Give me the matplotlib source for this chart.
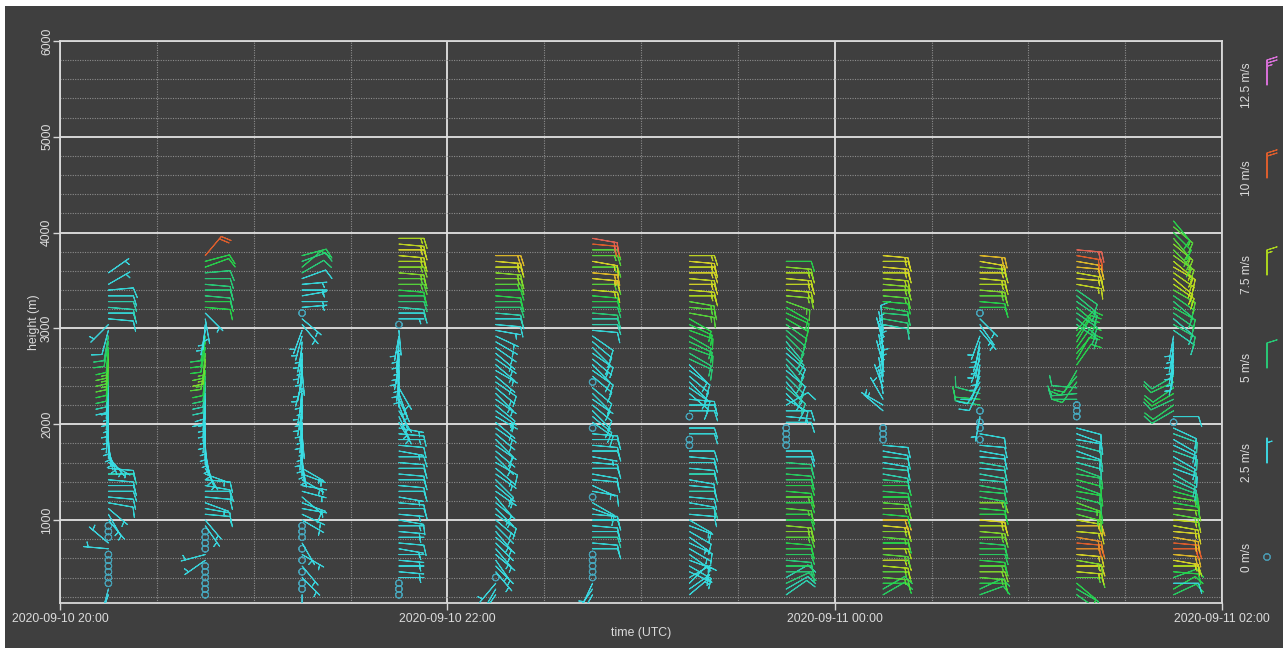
import numpy as np
import matplotlib
matplotlib.use('Agg')
import matplotlib.pyplot as plt
import matplotlib.dates as mdates
from matplotlib.colors import LinearSegmentedColormap, Normalize
from matplotlib.patches import Rectangle
from datetime import datetime, timedelta

plt.rcParams['font.family'] = ['Liberation Sans', 'DejaVu Sans']

nan = np.nan

# range gates (m) and profile times (UTC)
heights = np.arange(220, 4121, 60)
times = [datetime(2020, 9, 10, 20, 15) + timedelta(minutes=30 * k) for k in range(12)]

# wind speed (m/s) and direction (deg, from) per profile, one value per gate
spd_2015 = [2.5, 2, 0.5, 0.5, 0.5, 0.5, 0.5, 0.5, 3, 2.5, 0.5,
            0.5, 0.5, 3, 3, 3.5, 4, 4, 4, 4, 4, 4.5,
            4, 3.5, 3, 3, 3, 3, 3, 3, 3, 3.5, 3.5,
            3.5, 3.5, 3.5, 4, 4.5, 5.5, 6, 6.5, 6.5, 6.5, 6,
            5.5, 5, 4, 3, 4, 4, 4.5, 4.5, 4, 4, 3.5,
            nan, 3, nan, nan, nan, nan, nan, nan, nan, nan, nan]
dir_2015 = [200, 195, 0, 0, 0, 0, 0, 0, 275, 310, 0,
            0, 0, 140, 150, 130, 100, 95, 90, 90, 95, 90,
            95, 120, 140, 160, 170, 175, 180, 185, 180, 185, 180,
            185, 180, 185, 185, 185, 185, 185, 185, 185, 185, 185,
            190, 190, 195, 225, 95, 90, 95, 90, 90, 85, 60,
            0, 55, 0, 0, 0, 0, 0, 0, 0, 0, 0]

spd_2045 = [0.5, 0.5, 0.5, 0.5, 0.5, 0.5, 3, 3.5, 0.5, 0.5, 0.5,
            0.5, 3, 3, 4, 4, 3.5, 4, 4, 4, 4, 3.5,
            3.5, 3.5, 3.5, 3, 3, 3, 3, 3.5, 3, 3.5, 3.5,
            3.5, 4, 4, 4.5, 4.5, 5, 6, 6.5, 7, 6.5, 6,
            6, 5.5, 3.5, 3, 3, 3, 6, 6, 5, 5, 5,
            5, 5, 6, 6, 10, nan, nan, nan, nan, nan, nan]
dir_2045 = [0, 0, 0, 0, 0, 0, 235, 255, 0, 0, 0,
            0, 145, 140, 95, 100, 110, 95, 90, 100, 95, 110,
            150, 160, 165, 170, 175, 180, 180, 185, 180, 185, 185,
            185, 185, 180, 185, 185, 185, 185, 190, 185, 185, 190,
            190, 190, 190, 185, 170, 135, 95, 90, 95, 90, 95,
            90, 85, 70, 75, 40, 0, 0, 0, 0, 0, 0]

spd_2115 = [2, 0.5, 0.5, 3, 0.5, 3, 0.5, 3, 0.5, 3, 0.5,
            0.5, 0.5, 3, 3.5, 3.5, 3.5, 4, 3.5, 3.5, 3.5, 3.5,
            3.5, 3, 3, 3, 3, 3, 3, 3, 3, 3.5, 3.5,
            3.5, 3.5, 3.5, 3, 3.5, 3.5, 3.5, 3.5, 3, 3.5, 3.5,
            3, 3, 2.5, 3, 3, 0.5, 3.5, 3.5, 3.5, 3.5, 3.5,
            4, 5, 5.5, 5, 5.5, nan, nan, nan, nan, nan, nan]
dir_2115 = [180, 0, 0, 135, 0, 140, 0, 120, 0, 150, 0,
            0, 0, 120, 115, 100, 110, 130, 105, 100, 120, 110,
            120, 170, 175, 180, 185, 180, 175, 185, 180, 185, 190,
            185, 190, 180, 185, 195, 190, 175, 185, 190, 180, 190,
            185, 195, 200, 140, 130, 0, 85, 90, 80, 90, 85,
            70, 60, 50, 70, 75, 0, 0, 0, 0, 0, 0]

spd_2145 = [0.5, 0.5, 0.5, 3, 3.5, 3.5, 3.5, 3.5, 3.5, 4, 3.5,
            3.5, 3.5, 4, 3.5, 4, 4, 3.5, 4, 4, 4, 4,
            4, 4, 4, 3.5, 4, 3.5, 4, 3.5, 3.5, 3.5, 3.5,
            3.5, 3.5, 3.5, 3.5, 3, 3, 3, 3, 3, 3, 3,
            3, 3, 3, 0.5, 3.5, 4, 4.5, 5, 5.5, 6, 6.5,
            6.5, 7, 7, 7.5, 8, 8.5, 8, 7.5, nan, nan, nan]
dir_2145 = [0, 0, 0, 90, 95, 90, 95, 90, 100, 95, 90,
            95, 90, 100, 95, 90, 95, 100, 90, 95, 90, 95,
            90, 95, 90, 100, 95, 90, 95, 100, 150, 155, 150,
            160, 155, 160, 150, 180, 185, 180, 190, 185, 180, 185,
            185, 190, 175, 0, 90, 90, 95, 90, 90, 95, 90,
            90, 95, 90, 90, 95, 90, 95, 90, 0, 0, 0]

spd_2215 = [3.5, 3.5, 3, 0.5, 3, 3.5, 3.5, 3, 3.5, 3.5, 3.5,
            3.5, 3.5, 3.5, 4, 3.5, 3.5, 4, 3.5, 3.5, 4, 3.5,
            3.5, 4, 3.5, 3.5, 3.5, 4, 3.5, 3.5, 3.5, 3.5, 3.5,
            4, 3.5, 3.5, 3.5, 4, 3.5, 3.5, 3.5, 3.5, 3.5, 3.5,
            3.5, 3.5, 3, 4, 4, 4.5, 5, 5.5, 6, 6, 6.5,
            7, 7, 8, 8.5, 9, nan, nan, nan, nan, nan, nan]
dir_2215 = [215, 210, 220, 0, 140, 135, 145, 130, 140, 135, 130,
            140, 135, 130, 125, 135, 130, 140, 125, 130, 135, 125,
            130, 120, 135, 130, 125, 135, 130, 125, 130, 120, 125,
            130, 125, 135, 130, 125, 130, 120, 130, 125, 130, 125,
            120, 115, 100, 95, 90, 95, 90, 90, 95, 90, 90,
            90, 95, 90, 95, 90, 0, 0, 0, 0, 0, 0]

spd_2245 = [3, 3, 2.5, 0.5, 0.5, 0.5, 0.5, 0.5, 4, 4, 4.5,
            4, 4, 4, 4, 3.5, 4, 0.5, 4, 3.5, 4, 4,
            4, 4, 3.5, 4, 4, 4, 4, 0.5, 4, 4, 4,
            4, 3.5, 4, 4, 0.5, 4, 4, 4, 3.5, 4, 4,
            4, 4, 4, 4.5, 4.5, 5, 5, 6, 6, 8, 6.5,
            8.5, 9, 6.5, 8.5, 6.5, 6.5, 10, 10.5, nan, nan, nan]
dir_2245 = [210, 215, 205, 0, 0, 0, 0, 0, 90, 95, 90,
            90, 95, 90, 95, 110, 120, 0, 100, 115, 95, 100,
            90, 95, 100, 90, 95, 90, 95, 0, 125, 130, 135,
            130, 125, 135, 130, 0, 130, 125, 135, 130, 125, 135,
            130, 125, 95, 90, 90, 95, 90, 90, 95, 95, 90,
            95, 95, 90, 100, 90, 90, 95, 100, 0, 0, 0]

spd_2315 = [3.5, 3.5, 4, 3.5, 3.5, 4, 3.5, 4, 3.5, 4, 3.5,
            4, 3.5, 4, 4, 4.5, 4, 4, 4.5, 4, 4, 4.5,
            4, 4, 4, 4, 0.5, 0.5, 4, 4, nan, 0.5, 4,
            4, 4, 4, 4, 4, 4, 4, 4, 5, 5, 5.5,
            5.5, 5.5, 6, 6, 6, 6.5, 6.5, 6.5, 7.5, 8, 8.5,
            8, 8.5, 8, 8.5, 8, nan, nan, nan, nan, nan, nan]
dir_2315 = [50, 55, 45, 60, 115, 120, 110, 125, 120, 115, 125,
            120, 110, 120, 95, 90, 100, 95, 90, 95, 100, 90,
            95, 90, 95, 90, 0, 0, 90, 90, 0, 0, 90,
            90, 95, 130, 125, 135, 130, 125, 135, 115, 120, 110,
            115, 120, 110, 115, 120, 100, 95, 100, 90, 95, 90,
            95, 90, 90, 95, 90, 0, 0, 0, 0, 0, 0]

spd_2345 = [4.5, 4.5, 5, 4.5, 5, 5.5, 5, 5.5, 6, 6, 6.5,
            7, 7, 6, 6, 6.5, 6, 6.5, 6, 6, 5.5, 5.5,
            5, 5, 4, 4, 0.5, 0.5, 0.5, 0.5, 4, 3.5, 4,
            4, 4, 4, 4.5, 4, 4.5, 4, 4.5, 4.5, 4, 4.5,
            4.5, 5, 5, 5.5, 6, 6, 6, 6.5, 7, 7.5, 8,
            8, 7.5, 7, 6, nan, nan, nan, nan, nan, nan, nan]
dir_2345 = [55, 60, 65, 60, 90, 90, 95, 90, 90, 95, 90,
            90, 95, 90, 90, 95, 90, 90, 95, 90, 90, 95,
            90, 95, 90, 90, 0, 0, 0, 0, 90, 95, 90,
            60, 120, 135, 130, 140, 135, 130, 140, 135, 130, 135,
            140, 135, 130, 125, 120, 115, 120, 110, 95, 95, 90,
            95, 90, 95, 90, 0, 0, 0, 0, 0, 0, 0]

spd_0015 = [5.5, 5.5, 6, 6.5, 6.5, 7.5, 8, 6.5, 7.5, 6, 6.5,
            7, 8.5, 9, 6, 7, 6.5, 6, 5.5, 6, 5, 4.5,
            4.5, 4, 4.5, 4, 4, 0.5, 0.5, 0.5, nan, nan, 3,
            3, 3, 2.5, 3, 3, 3.5, 3.5, 3, 3.5, 3.5, 3,
            3.5, 3, 4, 4.5, 5, 5, 5.5, 6, 6.5, 7, 7,
            7.5, 8, 8.5, 8, 8.5, nan, nan, nan, nan, nan, nan]
dir_0015 = [60, 60, 90, 95, 90, 95, 90, 95, 90, 90, 95,
            90, 95, 90, 95, 90, 95, 90, 95, 90, 95, 100,
            95, 100, 95, 100, 95, 0, 0, 0, 0, 0, 310,
            300, 330, 350, 340, 350, 355, 0, 345, 350, 355, 350,
            345, 350, 355, 100, 100, 95, 100, 95, 95, 90, 95,
            95, 90, 95, 90, 95, 0, 0, 0, 0, 0, 0]

spd_0045 = [5.5, 5.5, 6, 6.5, 7, 6.5, 6, 5.5, 6, 5.5, 6.5,
            7, 7.5, 8.5, 6, 6, 7, 5.5, 5.5, 5, 4.5, 4.5,
            4, 4.5, 4, 4, 4, 0.5, 4, 0.5, 0.5, 3, 0.5,
            5, 5.5, 5, 4, 4, 4, 3.5, 3.5, 3.5, 3.5, 3.5,
            3.5, 3.5, 3.5, 3.5, 3.5, 0.5, 6, 6, 6.5, 7, 7.5,
            8, 8.5, 7, 8.5, 9, nan, nan, nan, nan, nan, nan]
dir_0045 = [70, 65, 90, 95, 90, 90, 95, 90, 90, 95, 90,
            95, 90, 95, 90, 95, 90, 100, 95, 100, 95, 100,
            95, 100, 95, 100, 95, 0, 100, 0, 0, 190, 0,
            280, 275, 285, 205, 210, 200, 195, 190, 200, 190, 195,
            190, 200, 140, 145, 135, 0, 90, 95, 90, 95, 90,
            95, 90, 95, 100, 95, 0, 0, 0, 0, 0, 0]

spd_0115 = [5.5, 5.5, 6, 6.5, 8, 8.5, 7, 8.5, 9.5, 10, 9.5,
            8, 9, 8, 6.5, 6, 6.5, 5.5, 6, 5.5, 6, 5.5,
            5, 4.5, 4.5, 4, 4.5, 4, 4, 4, nan, 0.5, 0.5,
            0.5, 5, 5, 5, 5.5, 5.5, 5.5, 6, 6, 6, 6,
            6, 6, 6, 5, 5, 5, 5.5, 5, 5, 5, 8,
            8.5, 8, 9, 9, 10, 10.5, nan, nan, nan, nan, nan]
dir_0115 = [125, 120, 130, 90, 95, 90, 100, 95, 90, 95, 100,
            95, 90, 100, 105, 100, 110, 105, 100, 110, 105, 100,
            110, 105, 100, 110, 105, 100, 110, 105, 0, 0, 0,
            0, 270, 265, 275, 215, 220, 210, 35, 30, 40, 35,
            30, 35, 40, 125, 130, 125, 130, 125, 130, 125, 100,
            95, 100, 95, 100, 100, 95, 0, 0, 0, 0, 0]

spd_0145 = [5.5, 6, 4, 5.5, 6, 7.5, 8.5, 9, 10, 10, 9,
            8.5, 8, 8, 6.5, 7, 6, 6.5, 6, 5, 4.5, 4.5,
            4, 4.5, 4, 4.5, 4, 4, 4.5, 4, 0.5, 4, 5,
            5.5, 5, 6, 5.5, 5.5, 5, 3.5, 3.5, 3, 3.5, 3.5,
            3.5, 3, 4.5, 5, 4.5, 5, 5.5, 5, 5.5, 6.5, 7.5,
            8, 7.5, 8, 7.5, 7, 6.5, 7, 6.5, 6, 6.5, 6]
dir_0145 = [65, 60, 90, 70, 95, 90, 100, 95, 90, 95, 100,
            95, 100, 95, 100, 95, 100, 100, 105, 110, 115, 120,
            110, 115, 120, 110, 115, 120, 110, 115, 0, 90, 240,
            235, 245, 240, 235, 245, 240, 190, 185, 190, 185, 190,
            185, 190, 125, 120, 130, 125, 120, 130, 125, 120, 125,
            130, 125, 120, 130, 125, 135, 130, 140, 135, 130, 140]

profiles = [
    (spd_2015, dir_2015), (spd_2045, dir_2045), (spd_2115, dir_2115),
    (spd_2145, dir_2145), (spd_2215, dir_2215), (spd_2245, dir_2245),
    (spd_2315, dir_2315), (spd_2345, dir_2345), (spd_0015, dir_0015),
    (spd_0045, dir_0045), (spd_0115, dir_0115), (spd_0145, dir_0145),
]

# legend key
key_speeds = [12.5, 10, 7.5, 5, 2.5, 0]
key_labels = ['12.5 m/s', '10 m/s', '7.5 m/s', '5 m/s', '2.5 m/s', '0 m/s']

BG = '#3f3f3f'
FG = '#dcdcdc'

speed_nodes = [0, 2.5, 4.2, 5, 6, 7.5, 8.75, 10, 12.5]
node_colors = ['#4a9cb4', '#3ce0ec', '#34dcdc', '#28d27a', '#26d84a',
               '#b4e01c', '#e6d828', '#e8602c', '#e474e4']
cmap = LinearSegmentedColormap.from_list(
    'wind', list(zip(np.array(speed_nodes) / 12.5, node_colors)))
norm = Normalize(0, 12.5)

# staff length on screen scales with length**2, so 6 gives ~25 px at 100 dpi
barb_kw = dict(length=6, linewidth=0.75, cmap=cmap, norm=norm, alpha=0.92,
               barb_increments=dict(half=2.5, full=5, flag=25),
               sizes=dict(emptybarb=0.13))


def uv(speed, direction):
    rad = np.radians(direction)
    return -speed * np.sin(rad), -speed * np.cos(rad)


fig = plt.figure(figsize=(12.83, 6.55), dpi=100, facecolor='white')
fig.patches.append(Rectangle((5 / 1283, 7 / 655), 1, 642 / 655,
                             transform=fig.transFigure, facecolor=BG,
                             edgecolor='none', zorder=-10))

ax = fig.add_axes([60 / 1283, 52 / 655, 1162 / 1283, 562 / 655])
ax.set_facecolor(BG)

xs, ys, us, vs, cs = [], [], [], [], []
for t, (spd, drc) in zip(times, profiles):
    spd = np.asarray(spd, float)
    drc = np.asarray(drc, float)
    ok = ~np.isnan(spd)
    u, v = uv(spd[ok], drc[ok])
    xs.append(np.full(ok.sum(), mdates.date2num(t)))
    ys.append(heights[ok])
    us.append(u)
    vs.append(v)
    cs.append(spd[ok])

ax.barbs(np.concatenate(xs), np.concatenate(ys), np.concatenate(us),
         np.concatenate(vs), np.concatenate(cs), zorder=3, **barb_kw)

t0 = datetime(2020, 9, 10, 20, 0)
ax.set_xlim(mdates.date2num(t0), mdates.date2num(t0 + timedelta(hours=6)))
ax.set_ylim(134, 6000)

ax.xaxis.set_major_locator(mdates.HourLocator(interval=2))
ax.xaxis.set_minor_locator(mdates.MinuteLocator(byminute=[0, 30]))
ax.xaxis.set_major_formatter(mdates.DateFormatter('%Y-%m-%d %H:%M'))
ax.set_yticks(np.arange(1000, 6001, 1000))
ax.set_yticks(np.arange(200, 6001, 200), minor=True)

ax.grid(which='major', color='#e2e2e2', lw=1.3, ls='-', zorder=1)
ax.grid(which='minor', color='#8c8c8c', lw=0.8, ls=(0, (1, 1.2)), zorder=1)

ax.tick_params(which='major', colors='#d8d8d8', labelcolor=FG, labelsize=8.8,
               length=5, width=1)
ax.tick_params(axis='y', which='major', pad=0)
ax.tick_params(axis='x', which='major', pad=2.5)
ax.tick_params(which='minor', length=0)
for lab in ax.get_yticklabels():
    lab.set_rotation(90)
    lab.set_va('center')
for s in ax.spines.values():
    s.set_color('#d8d8d8')
    s.set_linewidth(1.3)

ax.set_xlabel('time (UTC)', color=FG, fontsize=8.8, labelpad=1)
ax.set_ylabel('height (m)', color=FG, fontsize=8.8, labelpad=1)

# speed key on the right
lax = fig.add_axes([1228 / 1283, 0, 55 / 1283, 1])
lax.set_xlim(0, 55)
lax.set_ylim(0, 655)
lax.axis('off')
key_y = [570, 477, 380, 287, 192, 98]
ku, kv = uv(np.array(key_speeds, float), np.zeros(len(key_speeds)))
lax.barbs(np.full(len(key_speeds), 39.0), key_y, ku, kv, key_speeds, **barb_kw)
for y, lab in zip(key_y, key_labels):
    lax.text(19, y, lab, rotation=90, ha='center', va='center',
             color=FG, fontsize=8.6)

fig.savefig('out.png', dpi=100, facecolor=fig.get_facecolor())
